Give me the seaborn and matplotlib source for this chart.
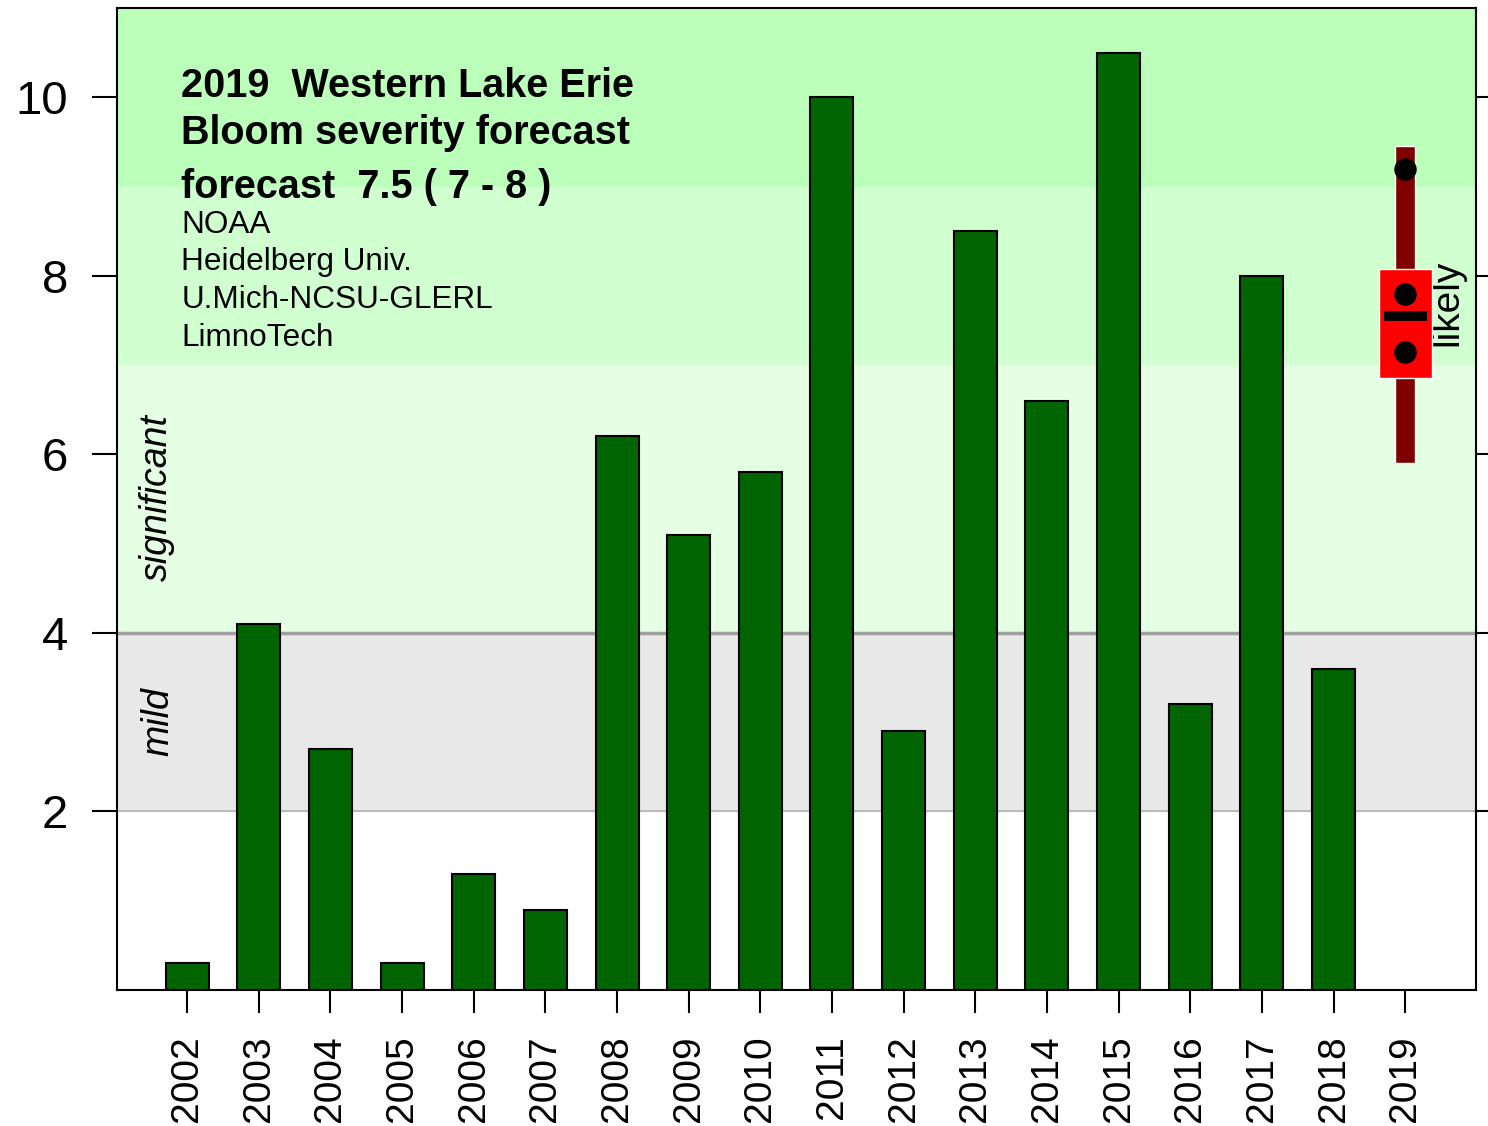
import numpy as np
import pandas as pd
import seaborn as sns
import matplotlib.pyplot as plt

# observed bloom severity by year
years = [str(y) for y in range(2002, 2020)]
obs_years = [str(y) for y in range(2002, 2019)]
severity = [0.3, 4.1, 2.7, 0.3, 1.3, 0.9, 6.2, 5.1, 5.8, 10.0,
            2.9, 8.5, 6.6, 10.5, 3.2, 8.0, 3.6]

# 2019 forecast
fc_range = [5.9, 9.45]      # full range (dark red)
fc_likely = [6.85, 8.08]    # likely range (red box)
fc_central = 7.55
fc_models = [9.2, 7.8, 7.15]

title_lines = ["2019  Western Lake Erie", "Bloom severity forecast",
               "forecast  7.5 ( 7 - 8 )"]
credit_lines = ["NOAA", "Heidelberg Univ.", "U.Mich-NCSU-GLERL", "LimnoTech"]

sns.set_style("ticks")
plt.rcParams['font.family'] = ['Liberation Sans', 'DejaVu Sans']
plt.rcParams['text.color'] = 'black'
plt.rcParams['xtick.color'] = 'black'
plt.rcParams['ytick.color'] = 'black'

df = pd.DataFrame({'year': obs_years, 'severity': severity})

fig = plt.figure(figsize=(14.88, 11.26), dpi=100)
ax = fig.add_axes([0.0786, 0.1208, 0.9134, 0.8721])

# severity bands
ax.axhspan(9, 11, color='#BBFFBB', lw=0, zorder=0)
ax.axhspan(7, 9, color='#D0FFD0', lw=0, zorder=0)
ax.axhspan(4, 7, color='#E5FFE5', lw=0, zorder=0)
ax.axhspan(2, 4, facecolor='#E8E8E8', edgecolor='#BBBBBB', lw=1.5, zorder=0)
ax.axhline(4, color='#A0A0A0', lw=2.5, zorder=0.5)

sns.barplot(data=df, x='year', y='severity', order=years, color='#006400',
            width=0.6, saturation=1, edgecolor='black', linewidth=1.5, ax=ax, zorder=2)

# forecast marks at the 2019 slot
fx = years.index('2019')
ax.bar(fx, fc_range[1] - fc_range[0], bottom=fc_range[0], width=0.27,
       color='#800000', zorder=3)
ax.bar(fx, fc_likely[1] - fc_likely[0], bottom=fc_likely[0], width=0.74,
       color='#FF0000', zorder=4)
ax.hlines(fc_central, fx - 0.3, fx + 0.3, color='black', lw=7, zorder=5)
ax.scatter([fx] * len(fc_models), fc_models, s=230, color='black', zorder=6)
ax.text(fx + 0.59, 7.7, "likely", rotation=90, ha='center', va='center', fontsize=28)

ax.text(-0.42, 5.52, "significant", rotation=90, style='italic',
        ha='center', va='center', fontsize=27)
ax.text(-0.40, 3.01, "mild", rotation=90, style='italic',
        ha='center', va='center', fontsize=27)

for line, yv in zip(title_lines, [10.13, 9.6, 8.99]):
    ax.text(-0.084, yv, line, fontsize=28.5, fontweight='bold', ha='left', va='center')
for line, yv in zip(credit_lines, [8.57, 8.15, 7.73, 7.30]):
    ax.text(-0.084, yv, line, fontsize=22.7, ha='left', va='center')

ax.set_xlim(-0.98, 17.99)
ax.set_ylim(0, 11)
ax.set_yticks([2, 4, 6, 8, 10])
ax.set_xlabel("")
ax.set_ylabel("")
ax.tick_params(axis='y', labelsize=34, length=18, width=1.5, pad=17,
               right=True, direction='out')
ax.tick_params(axis='x', labelsize=28, length=16.5, width=1.5, pad=16,
               rotation=90, direction='out')
for s in ax.spines.values():
    s.set_visible(True)
    s.set_linewidth(1.5)
    s.set_color('black')

fig.savefig("out.png", dpi=100)
